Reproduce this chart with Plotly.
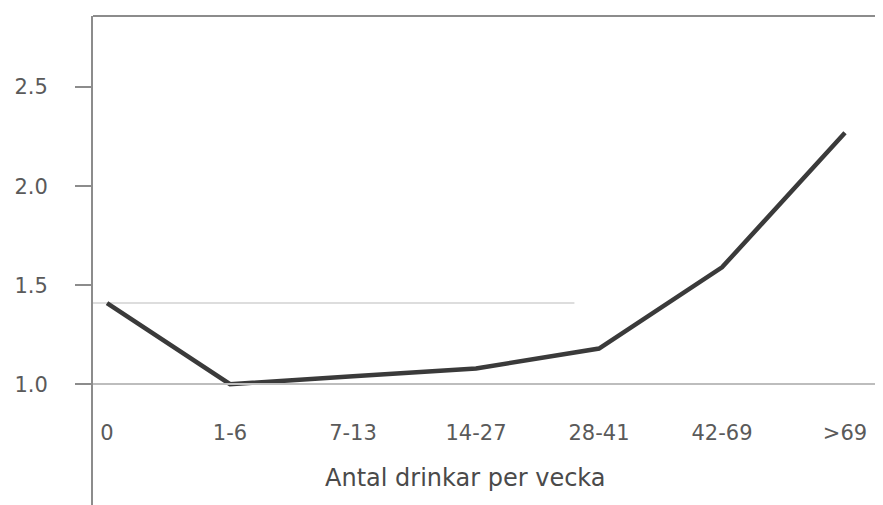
import plotly.graph_objects as go

categories = ["0", "1-6", "7-13", "14-27", "28-41", "42-69", ">69"]
relative_risk = [1.41, 1.00, 1.04, 1.08, 1.18, 1.59, 2.27]
y_ticks = [1.0, 1.5, 2.0, 2.5]
y_tick_labels = ["1.0", "1.5", "2.0", "2.5"]
x_title = "Antal drinkar per vecka"

y_min, y_max = 0.35, 2.859
x_min, x_max = -0.114, 6.374
axis_pos = (1.0 - y_min) / (y_max - y_min)

font_family = "DejaVu Sans"
text_color = "#5a5a5a"

fig = go.Figure()
fig.add_trace(go.Scatter(
    x=categories, y=relative_risk, mode="lines",
    line=dict(color="#3a3a3a", width=4.5),
    hoverinfo="x+y", showlegend=False,
))

# reference line at the level of the non-drinkers
fig.add_shape(type="line", xref="x", yref="y",
              x0=x_min, x1=3.8, y0=relative_risk[0], y1=relative_risk[0],
              line=dict(color="#d2d2d2", width=1.5), layer="below")
# top frame line
fig.add_shape(type="line", xref="paper", yref="paper",
              x0=0, x1=1, y0=1, y1=1,
              line=dict(color="#8c8c8c", width=2))

# x-axis title, placed under the tick labels
fig.add_annotation(text=x_title, xref="paper", yref="paper",
                   x=0.467, y=0.070, xanchor="center", yanchor="middle",
                   showarrow=False, font=dict(size=24, color="#4a4a4a"))

fig.update_layout(
    width=883, height=505,
    margin=dict(l=85, r=0, t=8, b=0, autoexpand=False),
    paper_bgcolor="white", plot_bgcolor="white",
    font=dict(family=font_family, color=text_color, size=21),
    xaxis=dict(
        type="category",
        range=[x_min, x_max],
        anchor="free", position=axis_pos,
        showline=True, linecolor="#bdbdbd", linewidth=1.5,
        showgrid=False, zeroline=False,
        ticks="", ticklabelstandoff=30,
        tickfont=dict(size=21, color=text_color),
    ),
    yaxis=dict(
        range=[y_min, y_max],
        tickvals=y_ticks, ticktext=y_tick_labels,
        showline=True, linecolor="#8c8c8c", linewidth=2,
        ticks="outside", ticklen=16, tickwidth=1.5, tickcolor="#8c8c8c",
        ticklabelstandoff=23,
        showgrid=False, zeroline=False,
        tickfont=dict(size=21, color=text_color),
    ),
)

fig.write_html("out.html")
